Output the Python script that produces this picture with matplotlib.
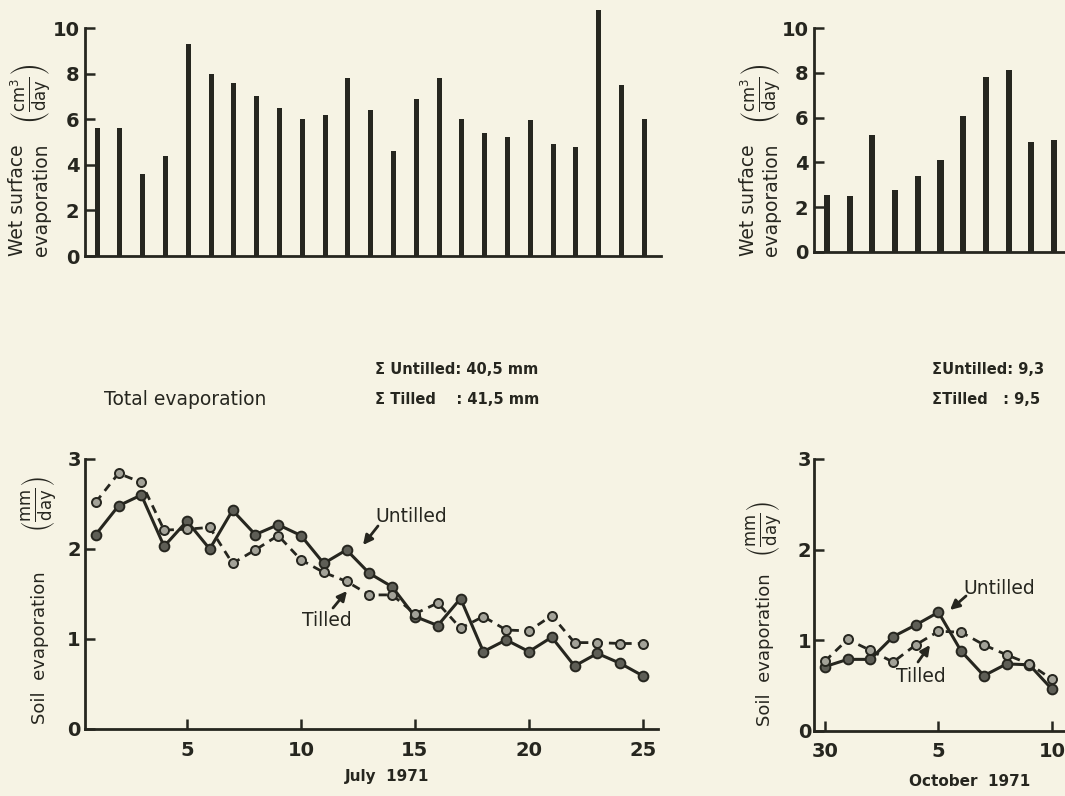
import matplotlib
matplotlib.use("Agg")
import matplotlib.pyplot as plt

# ---------------- data ----------------
july_days = list(range(1, 26))
july_wet = [5.6, 5.6, 3.6, 4.4, 9.3, 8.0, 7.6, 7.0, 6.5, 6.0, 6.2, 7.8, 6.4, 4.6,
            6.9, 7.8, 6.0, 5.4, 5.2, 5.95, 4.9, 4.8, 10.8, 7.5, 6.0]
july_untilled = [2.16, 2.48, 2.6, 2.03, 2.31, 2.0, 2.43, 2.16, 2.27, 2.15, 1.84, 1.99,
                 1.73, 1.58, 1.25, 1.15, 1.45, 0.86, 0.99, 0.86, 1.02, 0.70, 0.84, 0.73, 0.59]
july_tilled = [2.52, 2.84, 2.74, 2.21, 2.22, 2.24, 1.84, 1.99, 2.15, 1.88, 1.74, 1.64,
               1.49, 1.49, 1.28, 1.40, 1.12, 1.25, 1.10, 1.09, 1.26, 0.96, 0.96, 0.95, 0.95]
july_ticks = [5, 10, 15, 20, 25]

oct_index = list(range(0, 11))          # Sept 30 ... Oct 10
oct_wet = [2.56, 2.51, 5.24, 2.75, 3.38, 4.09, 6.06, 7.81, 8.14, 4.90, 5.01]
oct_untilled = [0.71, 0.79, 0.79, 1.04, 1.17, 1.31, 0.88, 0.61, 0.74, 0.73, 0.46]
oct_tilled = [0.77, 1.01, 0.89, 0.76, 0.95, 1.10, 1.09, 0.95, 0.84, 0.74, 0.57]
oct_tick_pos = [0, 5, 10]
oct_tick_labels = ["30", "5", "10"]

# ---------------- style ----------------
W, H = 1065, 796
INK = "#26261f"
PAPER = "#f6f3e4"
plt.rcParams["font.family"] = ["DejaVu Sans"]
plt.rcParams["mathtext.default"] = "regular"

fig = plt.figure(figsize=(W / 100, H / 100), dpi=100, facecolor=PAPER)


def rect(x0, y_top, x1, y_bot):
    return [x0 / W, 1 - y_bot / H, (x1 - x0) / W, (y_bot - y_top) / H]


def fp(x, y):
    return (x / W, 1 - y / H)


def style_axes(ax):
    ax.set_facecolor("none")
    for s in ("top", "right"):
        ax.spines[s].set_visible(False)
    for s in ("left", "bottom"):
        ax.spines[s].set_linewidth(2.0)
        ax.spines[s].set_color(INK)
    ax.tick_params(direction="in", length=7, width=1.8, colors=INK,
                   labelsize=14, labelcolor=INK)


def bold_ticks(ax):
    for lab in ax.get_xticklabels() + ax.get_yticklabels():
        lab.set_fontweight("bold")


# ---- top left: wet surface evaporation July ----
ax1 = fig.add_axes(rect(85, 28, 661, 256))
ax1.bar(july_days, july_wet, width=0.22, color=INK, clip_on=False)
ax1.set_xlim(0.47, 25.73)
ax1.set_ylim(0, 10)
ax1.set_yticks([0, 2, 4, 6, 8, 10])
ax1.set_xticks([])
style_axes(ax1)
ax1.tick_params(axis="y", pad=4)
bold_ticks(ax1)

# ---- top right: wet surface evaporation October ----
ax2 = fig.add_axes(rect(814, 28, 1065, 252))
ax2.bar(oct_index, oct_wet, width=0.27, color=INK, clip_on=False)
ax2.set_xlim(-0.57, 10.48)
ax2.set_ylim(0, 10)
ax2.set_yticks([0, 2, 4, 6, 8, 10])
ax2.set_xticks([])
style_axes(ax2)
ax2.tick_params(axis="y", pad=4)
bold_ticks(ax2)

# ---- bottom left: soil evaporation July ----
ax3 = fig.add_axes(rect(85, 459, 658, 729))
ax3.plot(july_days, july_untilled, "-", color=INK, lw=2.2, marker="o", ms=7,
         mfc="#5e5e56", mec=INK, mew=1.4, clip_on=False)
ax3.plot(july_days, july_tilled, "--", color=INK, lw=2.0, dashes=(3, 2.2),
         marker="o", ms=6.5, mfc="#a3a298", mec=INK, mew=1.4, clip_on=False)
ax3.set_xlim(0.53, 25.66)
ax3.set_ylim(0, 3)
ax3.set_yticks([0, 1, 2, 3])
ax3.set_xticks(july_ticks)
style_axes(ax3)
ax3.tick_params(axis="x", pad=9)
ax3.tick_params(axis="y", pad=3)
bold_ticks(ax3)

# ---- bottom right: soil evaporation October ----
ax4 = fig.add_axes(rect(814, 459, 1065, 731))
ax4.plot(oct_index, oct_untilled, "-", color=INK, lw=2.2, marker="o", ms=7,
         mfc="#5e5e56", mec=INK, mew=1.4, clip_on=False)
ax4.plot(oct_index, oct_tilled, "--", color=INK, lw=2.0, dashes=(3, 2.2),
         marker="o", ms=6.5, mfc="#a3a298", mec=INK, mew=1.4, clip_on=False)
ax4.set_xlim(-0.48, 10.57)
ax4.set_ylim(0, 3)
ax4.set_yticks([0, 1, 2, 3])
ax4.set_xticks(oct_tick_pos)
ax4.set_xticklabels(oct_tick_labels)
style_axes(ax4)
ax4.tick_params(axis="x", pad=8)
ax4.tick_params(axis="y", pad=2)
bold_ticks(ax4)

# ---------------- labels ----------------
def vtext(x, y, s, size, weight="normal", va="bottom"):
    fig.text(*fp(x, y), s, rotation=90, ha="center", va=va, fontsize=size,
             color=INK, fontweight=weight)

FRAC_CM = r"$\left(\frac{cm^3}{day}\right)$"
FRAC_MM = r"$\left(\frac{mm}{day}\right)$"

# top-left y label
vtext(18, 256, "Wet surface", 13.5)
vtext(42, 256, "evaporation", 13.5)
vtext(31, 124, FRAC_CM, 17)
# top-right y label
vtext(748, 256, "Wet surface", 13.5)
vtext(772, 256, "evaporation", 13.5)
vtext(761, 124, FRAC_CM, 17)
# bottom-left y label
vtext(40, 724, "Soil  evaporation", 13)
vtext(40, 532, FRAC_MM, 17)
# bottom-right y label
vtext(765, 726, "Soil  evaporation", 13)
vtext(765, 557, FRAC_MM, 17)

fig.text(*fp(387, 776), "July  1971", ha="center", va="center", fontsize=11,
         fontweight="bold", color=INK)
fig.text(*fp(970, 781), "October  1971", ha="center", va="center", fontsize=11,
         fontweight="bold", color=INK)

fig.text(*fp(185, 400), "Total evaporation", ha="center", va="center",
         fontsize=13.5, color=INK)
fig.text(*fp(375, 370), "\u03a3 Untilled: 40,5 mm", ha="left", va="center",
         fontsize=10.5, fontweight="bold", color=INK)
fig.text(*fp(375, 400), "\u03a3 Tilled    : 41,5 mm", ha="left", va="center",
         fontsize=10.5, fontweight="bold", color=INK)
fig.text(*fp(932, 370), "\u03a3Untilled: 9,3", ha="left", va="center",
         fontsize=10.5, fontweight="bold", color=INK)
fig.text(*fp(932, 400), "\u03a3Tilled   : 9,5", ha="left", va="center",
         fontsize=10.5, fontweight="bold", color=INK)

# ---------------- annotations ----------------
arrow = dict(arrowstyle="-|>", color=INK, lw=2.0, mutation_scale=14,
             shrinkA=0, shrinkB=0)


def note(text, xy_text, xy_tip, tail, ha="left"):
    fig.text(*fp(*xy_text), text, ha=ha, va="center", fontsize=13.5, color=INK)
    fig.add_artist(matplotlib.patches.FancyArrowPatch(
        fp(*tail), fp(*xy_tip), transform=fig.transFigure, **arrow))


note("Untilled", (375, 516), (363, 545), (378, 526))
note("Tilled", (302, 621), (347, 591), (333, 608))
note("Untilled", (963, 588), (950, 610), (966, 596))
note("Tilled", (896, 677), (930, 645), (918, 662))

fig.savefig("out.png", dpi=100, facecolor=PAPER)
